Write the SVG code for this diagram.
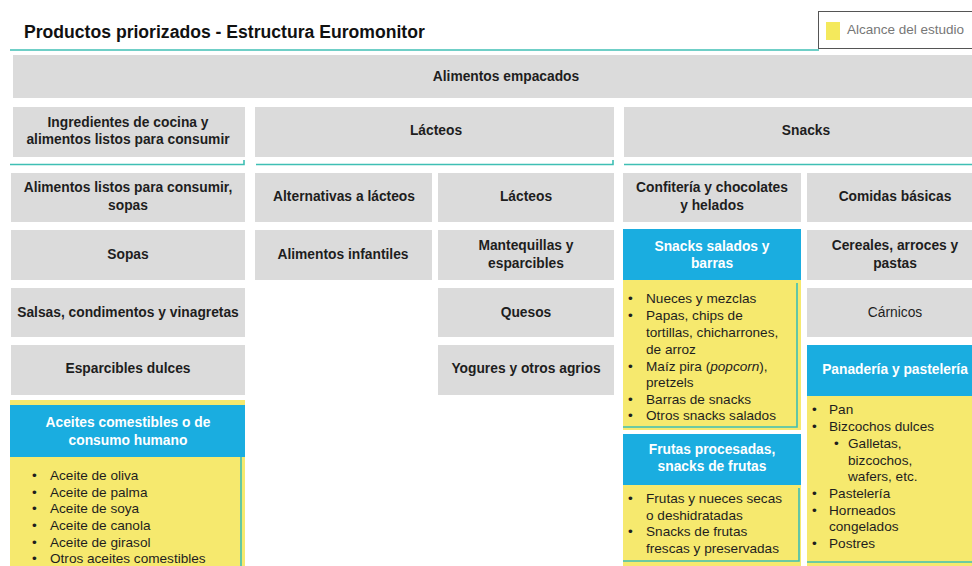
<svg xmlns="http://www.w3.org/2000/svg" width="972" height="566" viewBox="0 0 972 566">
<style>
.g{fill:#DBDBDB}
.b{fill:#1AADE0}
.y{fill:#F6E96E}
.t{font-family:"Liberation Sans",Arial,sans-serif;font-size:13.8px;font-weight:bold;fill:#1E1E1E;text-anchor:middle}
.n{font-family:"Liberation Sans",Arial,sans-serif;font-size:13.8px;font-weight:normal;fill:#1E1E1E;text-anchor:middle}
.w{font-family:"Liberation Sans",Arial,sans-serif;font-size:13.8px;font-weight:bold;fill:#FFFFFF;text-anchor:middle}
.l{font-family:"Liberation Sans",Arial,sans-serif;font-size:13.6px;fill:#1E1E1E}
.tl{fill:none;stroke:#3FBFB4;stroke-width:1.6}
</style>
<rect width="972" height="566" fill="#FFFFFF"/>
<g id="title">
<text x="24" y="38" font-family="Liberation Sans,Arial,sans-serif" font-size="17.6" font-weight="bold" fill="#111">Productos priorizados - Estructura Euromonitor</text>
</g>
<g id="legend">
<rect x="818.5" y="11.5" width="170" height="37" fill="#FFFFFF" stroke="#555" stroke-width="1"/>
<rect x="826" y="22" width="14" height="18" fill="#F4E95C"/>
<text x="847" y="34" font-family="Liberation Sans,Arial,sans-serif" font-size="13.5" fill="#777">Alcance del estudio</text>
</g>
<g id="lines">
<line class="tl" x1="10" y1="50" x2="819" y2="50"/>
<polyline class="tl" points="10,164.5 244,164.5 244,160"/>
<polyline class="tl" points="256,164.5 613,164.5 613,160"/>
<line class="tl" x1="624" y1="164.5" x2="972" y2="164.5"/>
</g>
<g id="alimentos-empacados">
<rect class="g" x="13" y="55" width="986" height="43"/>
<text class="t" x="506" y="81">Alimentos empacados</text>
</g>
<g id="ingredientes">
<rect class="g" x="13" y="107" width="232" height="50"/>
<text class="t" x="128" y="127">Ingredientes de cocina y</text>
<text class="t" x="128" y="144">alimentos listos para consumir</text>
</g>
<g id="lacteos-top">
<rect class="g" x="255" y="107" width="359" height="50"/>
<text class="t" x="436" y="135">Lácteos</text>
</g>
<g id="snacks-top">
<rect class="g" x="624" y="107" width="364" height="50"/>
<text class="t" x="806" y="135">Snacks</text>
</g>
<g id="listos-sopas">
<rect class="g" x="11" y="173" width="234" height="49"/>
<text class="t" x="128" y="192">Alimentos listos para consumir,</text>
<text class="t" x="128" y="210">sopas</text>
</g>
<g id="sopas">
<rect class="g" x="11" y="230" width="234" height="50"/>
<text class="t" x="128" y="259">Sopas</text>
</g>
<g id="salsas">
<rect class="g" x="11" y="288" width="234" height="49"/>
<text class="t" x="128" y="317">Salsas, condimentos y vinagretas</text>
</g>
<g id="esparcibles-dulces">
<rect class="g" x="11" y="345" width="234" height="50"/>
<text class="t" x="128" y="373">Esparcibles dulces</text>
</g>
<g id="aceites">
<rect class="y" x="10" y="400" width="235" height="166"/>
<rect class="b" x="10" y="405" width="235" height="52"/>
<line class="tl" x1="241" y1="457" x2="241" y2="566"/>
<text class="w" x="128" y="427">Aceites comestibles o de</text>
<text class="w" x="128" y="445">consumo humano</text>
<g class="l">
<text x="32" y="480">•</text><text x="50" y="480">Aceite de oliva</text>
<text x="32" y="497">•</text><text x="50" y="497">Aceite de palma</text>
<text x="32" y="513">•</text><text x="50" y="513">Aceite de soya</text>
<text x="32" y="530">•</text><text x="50" y="530">Aceite de canola</text>
<text x="32" y="547">•</text><text x="50" y="547">Aceite de girasol</text>
<text x="32" y="563">•</text><text x="50" y="563">Otros aceites comestibles</text>
</g>
</g>
<g id="alternativas">
<rect class="g" x="255" y="173" width="177" height="49"/>
<text class="t" x="344" y="201">Alternativas a lácteos</text>
</g>
<g id="infantiles">
<rect class="g" x="255" y="230" width="177" height="50"/>
<text class="t" x="343" y="259">Alimentos infantiles</text>
</g>
<g id="lacteos">
<rect class="g" x="438" y="173" width="176" height="49"/>
<text class="t" x="526" y="201">Lácteos</text>
</g>
<g id="mantequillas">
<rect class="g" x="438" y="230" width="176" height="50"/>
<text class="t" x="526" y="250">Mantequillas y</text>
<text class="t" x="526" y="268">esparcibles</text>
</g>
<g id="quesos">
<rect class="g" x="438" y="288" width="176" height="49"/>
<text class="t" x="526" y="317">Quesos</text>
</g>
<g id="yogures">
<rect class="g" x="438" y="345" width="176" height="50"/>
<text class="t" x="526" y="373">Yogures y otros agrios</text>
</g>
<g id="confiteria">
<rect class="g" x="623" y="173" width="178" height="49"/>
<text class="t" x="712" y="192">Confitería y chocolates</text>
<text class="t" x="712" y="210">y helados</text>
</g>
<g id="snacks-salados">
<rect class="y" x="623" y="280" width="178" height="150"/>
<rect class="b" x="623" y="229" width="178" height="51"/>
<polyline class="tl" points="797,283 797,427 623,427"/>
<text class="w" x="712" y="251">Snacks salados y</text>
<text class="w" x="712" y="268">barras</text>
<g class="l">
<text x="628" y="303">•</text><text x="646" y="303">Nueces y mezclas</text>
<text x="628" y="320">•</text><text x="646" y="320">Papas, chips de</text>
<text x="646" y="337">tortillas, chicharrones,</text>
<text x="646" y="354">de arroz</text>
<text x="628" y="371">•</text><text x="646" y="371">Maíz pira (<tspan font-style="italic">popcorn</tspan>),</text>
<text x="646" y="387">pretzels</text>
<text x="628" y="404">•</text><text x="646" y="404">Barras de snacks</text>
<text x="628" y="420">•</text><text x="646" y="420">Otros snacks salados</text>
</g>
</g>
<g id="frutas">
<rect class="y" x="623" y="484" width="178" height="82"/>
<rect class="b" x="623" y="434" width="178" height="51"/>
<polyline class="tl" points="799,488 799,561 623,561"/>
<text class="w" x="712" y="454">Frutas procesadas,</text>
<text class="w" x="712" y="471">snacks de frutas</text>
<g class="l">
<text x="628" y="503">•</text><text x="646" y="503">Frutas y nueces secas</text>
<text x="646" y="520">o deshidratadas</text>
<text x="628" y="536">•</text><text x="646" y="536">Snacks de frutas</text>
<text x="646" y="553">frescas y preservadas</text>
</g>
</g>
<g id="comidas-basicas">
<rect class="g" x="807" y="173" width="178" height="49"/>
<text class="t" x="895" y="201">Comidas básicas</text>
</g>
<g id="cereales">
<rect class="g" x="807" y="230" width="178" height="50"/>
<text class="t" x="895" y="250">Cereales, arroces y</text>
<text class="t" x="895" y="268">pastas</text>
</g>
<g id="carnicos">
<rect class="g" x="807" y="288" width="178" height="49"/>
<text class="n" x="895" y="317">Cárnicos</text>
</g>
<g id="panaderia">
<rect class="y" x="807" y="396" width="178" height="170"/>
<rect class="b" x="807" y="345" width="178" height="51"/>
<line class="tl" x1="807" y1="562" x2="972" y2="562"/>
<text class="w" x="895" y="374">Panadería y pastelería</text>
<g class="l">
<text x="812" y="414">•</text><text x="829" y="414">Pan</text>
<text x="812" y="431">•</text><text x="829" y="431">Bizcochos dulces</text>
<text x="834" y="448">•</text><text x="848" y="448">Galletas,</text>
<text x="848" y="465">bizcochos,</text>
<text x="848" y="481">wafers, etc.</text>
<text x="812" y="498">•</text><text x="829" y="498">Pastelería</text>
<text x="812" y="515">•</text><text x="829" y="515">Horneados</text>
<text x="829" y="531">congelados</text>
<text x="812" y="548">•</text><text x="829" y="548">Postres</text>
</g>
</g>
</svg>
